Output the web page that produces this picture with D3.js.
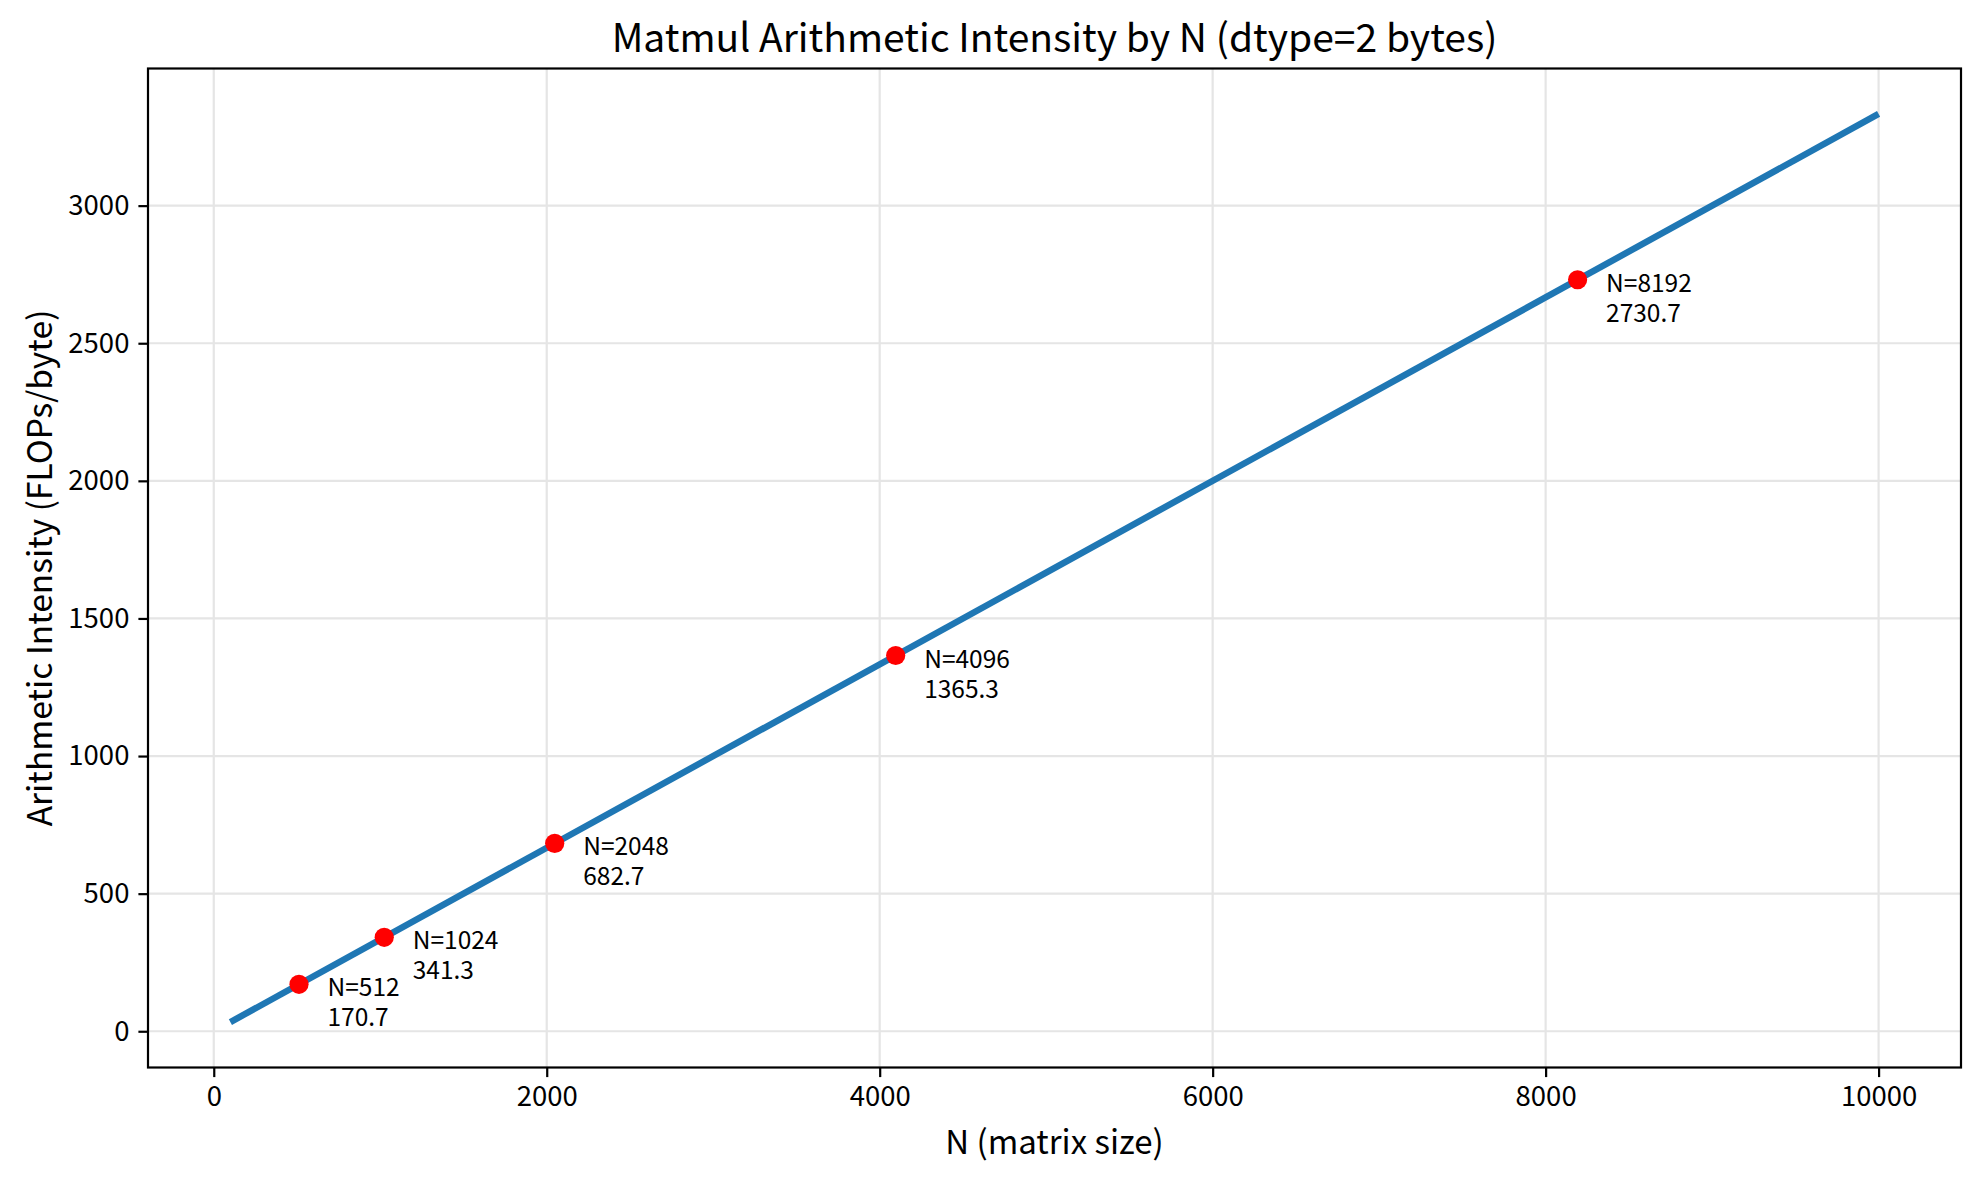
<!DOCTYPE html>
<html>
<head>
<meta charset="utf-8">
<script src="https://cdn.jsdelivr.net/npm/d3@7"></script>
<style>
  html, body { margin: 0; padding: 0; background: #fff; }
  svg { display: block; }
  text { font-family: "Noto Sans CJK JP", "Noto Sans", sans-serif; fill: #000; }
</style>
</head>
<body>
<svg id="chart" width="1981" height="1183"></svg>
<script>
// ---- data ----
const lineN = [100, 10000];
const lineAI = [33.3, 3333.3];
const pointN = [512, 1024, 2048, 4096, 8192];
const pointAI = [170.7, 341.3, 682.7, 1365.3, 2730.7];
const xTicks = [0, 2000, 4000, 6000, 8000, 10000];
const yTicks = [0, 500, 1000, 1500, 2000, 2500, 3000];
const titleText = "Matmul Arithmetic Intensity by N (dtype=2 bytes)";
const xLabelText = "N (matrix size)";
const yLabelText = "Arithmetic Intensity (FLOPs/byte)";

// ---- layout ----
const W = 1981, H = 1183;
const plot = { left: 148, right: 1961, top: 68.5, bottom: 1067.5 };

const svg = d3.select("#chart");

const x = d3.scaleLinear().domain([-395, 10495]).range([plot.left, plot.right]);
const y = d3.scaleLinear().domain([-131.7, 3498.3]).range([plot.bottom, plot.top]);

// grid
const grid = svg.append("g");
grid.selectAll("line.gx").data(xTicks).join("line")
  .attr("x1", d => x(d)).attr("x2", d => x(d))
  .attr("y1", plot.top).attr("y2", plot.bottom)
  .attr("stroke", "#e5e5e5").attr("stroke-width", 2.2);
grid.selectAll("line.gy").data(yTicks).join("line")
  .attr("x1", plot.left).attr("x2", plot.right)
  .attr("y1", d => y(d)).attr("y2", d => y(d))
  .attr("stroke", "#e5e5e5").attr("stroke-width", 2.2);

// line
const lineData = lineN.map((n, i) => [n, lineAI[i]]);
svg.append("path")
  .datum(lineData)
  .attr("fill", "none")
  .attr("stroke", "#1f77b4")
  .attr("stroke-width", 6.5)
  .attr("d", d3.line().x(d => x(d[0])).y(d => y(d[1])));

// points
const pts = pointN.map((n, i) => ({ n, ai: pointAI[i] }));
svg.append("g").selectAll("circle").data(pts).join("circle")
  .attr("cx", d => x(d.n)).attr("cy", d => y(d.ai))
  .attr("r", 9.6).attr("fill", "#ff0000");

// annotations
const ann = svg.append("g").selectAll("text").data(pts).join("text")
  .attr("x", d => x(d.n) + 28.5)
  .attr("y", d => y(d.ai) + 12)
  .style("font-size", "24.5px");
ann.append("tspan").attr("x", d => x(d.n) + 28.5).text(d => "N=" + d.n);
ann.append("tspan").attr("x", d => x(d.n) + 28.5).attr("dy", 30).text(d => d.ai.toFixed(1));

// axes
const xAxis = d3.axisBottom(x).tickValues(xTicks).tickFormat(d3.format("d")).tickSizeInner(9.6).tickSizeOuter(0).tickPadding(9);
const yAxis = d3.axisLeft(y).tickValues(yTicks).tickFormat(d3.format("d")).tickSizeInner(9.6).tickSizeOuter(0).tickPadding(9);

const gx = svg.append("g").attr("transform", `translate(0,${plot.bottom})`).call(xAxis);
const gy = svg.append("g").attr("transform", `translate(${plot.left},0)`).call(yAxis);
[gx, gy].forEach(g => {
  g.select(".domain").remove();
  g.selectAll(".tick line").attr("stroke", "#000").attr("stroke-width", 2.2);
  g.selectAll(".tick text").style("font-size", "27.5px").attr("fill", "#000")
    .style("font-family", '"Noto Sans CJK JP", "Noto Sans", sans-serif');
});

// frame
svg.append("rect")
  .attr("x", plot.left).attr("y", plot.top)
  .attr("width", plot.right - plot.left).attr("height", plot.bottom - plot.top)
  .attr("fill", "none").attr("stroke", "#000").attr("stroke-width", 2.2);

// title and labels
svg.append("text")
  .attr("x", (plot.left + plot.right) / 2).attr("y", 52)
  .attr("text-anchor", "middle").style("font-size", "39px")
  .text(titleText);

svg.append("text")
  .attr("x", (plot.left + plot.right) / 2).attr("y", 1154)
  .attr("text-anchor", "middle").style("font-size", "33px")
  .text(xLabelText);

svg.append("text")
  .attr("transform", `translate(52,${(plot.top + plot.bottom) / 2}) rotate(-90)`)
  .attr("text-anchor", "middle").style("font-size", "33.5px")
  .text(yLabelText);
</script>
</body>
</html>
